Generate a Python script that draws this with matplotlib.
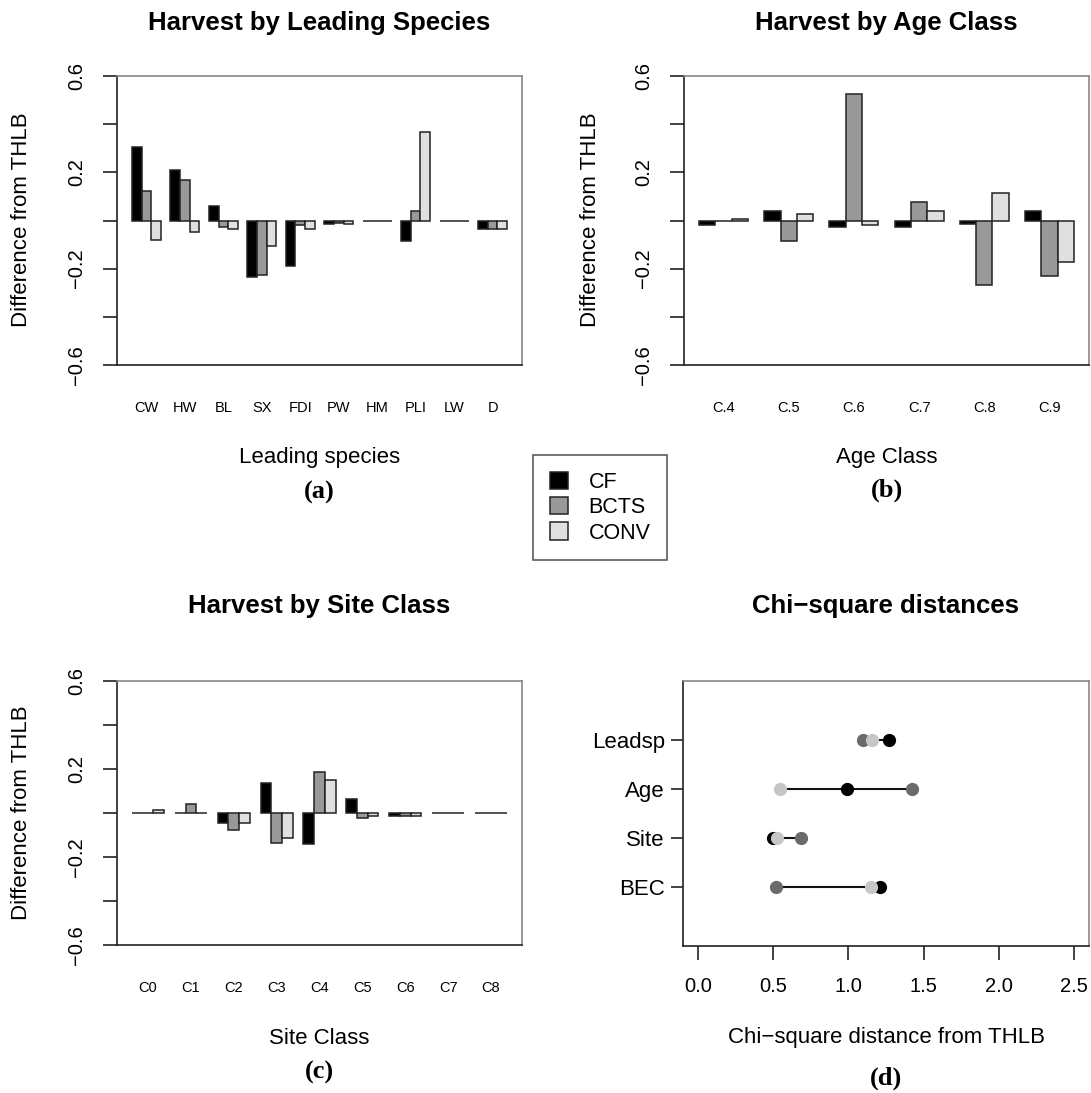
import matplotlib
matplotlib.use('Agg')
import matplotlib.pyplot as plt
import numpy as np
from matplotlib.patches import Patch

plt.rcParams['font.family'] = ['Liberation Sans', 'DejaVu Sans']

# data
species = ['CW', 'HW', 'BL', 'SX', 'FDI', 'PW', 'HM', 'PLI', 'LW', 'D']
sp_cf = [0.307, 0.210, 0.061, -0.235, -0.188, -0.014, 0.0, -0.087, 0.0, -0.034]
sp_bcts = [0.121, 0.167, -0.027, -0.227, -0.018, -0.010, 0.0, 0.041, 0.0, -0.034]
sp_conv = [-0.080, -0.046, -0.034, -0.107, -0.034, -0.014, 0.0, 0.366, 0.0, -0.034]

ages = ['C.4', 'C.5', 'C.6', 'C.7', 'C.8', 'C.9']
age_cf = [-0.020, 0.041, -0.029, -0.029, -0.014, 0.041]
age_bcts = [0.0, -0.086, 0.525, 0.075, -0.267, -0.231]
age_conv = [0.008, 0.027, -0.020, 0.039, 0.114, -0.171]

sites = ['C0', 'C1', 'C2', 'C3', 'C4', 'C5', 'C6', 'C7', 'C8']
site_cf = [0.0, 0.0, -0.045, 0.136, -0.142, 0.062, -0.015, 0.0, 0.0]
site_bcts = [0.0, 0.039, -0.076, -0.135, 0.186, -0.023, -0.015, 0.0, 0.0]
site_conv = [0.015, 0.0, -0.045, -0.112, 0.152, -0.015, -0.015, 0.0, 0.0]

chi_labels = ['Leadsp', 'Age', 'Site', 'BEC']
chi_cf = [1.273, 0.989, 0.496, 1.207]
chi_bcts = [1.100, 1.424, 0.684, 0.518]
chi_conv = [1.158, 0.544, 0.522, 1.147]

series = ['CF', 'BCTS', 'CONV']
bar_cols = ['#000000', '#999999', '#e0e0e0']
pt_cols = ['#000000', '#6a6a6a', '#c6c6c6']

W, H = 1091, 1093
fig = plt.figure(figsize=(W / 100, H / 100), dpi=100)


def box(l, t, r, b):
    return [l / W, 1 - b / H, (r - l) / W, (b - t) / H]


def ftext(x, y, s, **kw):
    fig.text(x / W, 1 - y / H, s, ha='center', va='center', **kw)


def fmt(v):
    return ('%.1f' % v).replace('-', '\u2212')


def style_spines(ax):
    for k, sp in ax.spines.items():
        sp.set_linewidth(1.2)
        sp.set_color('#888888' if k in ('top', 'right') else '#222222')


def bar_panel(rect, cats, cf, bcts, conv, title, xlabel, letter, lx, ty, xly, ly, yly):
    ax = fig.add_axes(box(*rect))
    n = len(cats)
    for j, vals in enumerate([cf, bcts, conv]):
        x = 1 + 4 * np.arange(n) + j
        ax.bar(x, vals, width=1, align='edge', color=bar_cols[j],
               edgecolor='#222222', linewidth=1.1)
    ext = 0.04 * (4 * n - 1)
    ax.set_xlim(1 - ext, 4 * n + ext)
    ax.set_ylim(-0.6, 0.6)
    ax.set_xticks(2.5 + 4 * np.arange(n))
    ax.set_xticklabels(cats, fontsize=10.5)
    ax.tick_params(axis='x', length=0, pad=26)
    yt = np.round(np.arange(-0.6, 0.61, 0.2), 1)
    ax.set_yticks(yt)
    ax.set_yticklabels([fmt(v) if i % 2 == 0 else '' for i, v in enumerate(yt)],
                       rotation=90, va='center', fontsize=14.5)
    ax.tick_params(axis='y', length=10, width=1.2, pad=12, color='#222222')
    style_spines(ax)
    cx = (rect[0] + rect[2]) / 2
    ftext(cx, ty, title, fontsize=18.5, fontweight='bold')
    ftext(cx, xly, xlabel, fontsize=16)
    ftext(cx, ly, letter, fontsize=19, fontweight='bold', family='Liberation Serif')
    ftext(lx, yly, 'Difference from THLB', fontsize=16, rotation=90)
    return ax


bar_panel((117, 76, 522, 365), species, sp_cf, sp_bcts, sp_conv,
          'Harvest by Leading Species', 'Leading species', '(a)', 22, 23, 458, 492, 220)
bar_panel((684, 76, 1089, 365), ages, age_cf, age_bcts, age_conv,
          'Harvest by Age Class', 'Age Class', '(b)', 590, 23, 458, 490, 220)
bar_panel((117, 681, 522, 945), sites, site_cf, site_bcts, site_conv,
          'Harvest by Site Class', 'Site Class', '(c)', 22, 606, 1038, 1072, 813)

# chi-square distances
ax = fig.add_axes(box(683, 681, 1089, 946))
yy = np.arange(len(chi_labels), 0, -1)
lo = np.minimum(np.minimum(chi_cf, chi_bcts), chi_conv)
hi = np.maximum(np.maximum(chi_cf, chi_bcts), chi_conv)
ax.hlines(yy, lo, hi, color='#111111', linewidth=1.5, zorder=2)
for j, vals in enumerate([chi_bcts, chi_cf, chi_conv]):
    col = [pt_cols[1], pt_cols[0], pt_cols[2]][j]
    ax.plot(vals, yy, 'o', color=col, markersize=8.5, zorder=3 + j)
ax.set_xlim(-0.1, 2.6)
ax.set_ylim(-0.2, 5.2)
xt = np.arange(0, 2.51, 0.5)
ax.set_xticks(xt)
ax.set_xticklabels([fmt(v) for v in xt], fontsize=14.5)
ax.set_yticks(yy)
ax.set_yticklabels(chi_labels, fontsize=16)
ax.tick_params(axis='x', length=10, width=1.2, pad=12, color='#222222')
ax.tick_params(axis='y', length=9, width=1.2, pad=4, color='#222222')
style_spines(ax)
ftext(886, 606, 'Chi\u2212square distances', fontsize=18.5, fontweight='bold')
ftext(886, 1038, 'Chi\u2212square distance from THLB', fontsize=16)
ftext(886, 1078, '(d)', fontsize=19, fontweight='bold', family='Liberation Serif')

# shared legend
handles = [Patch(facecolor=c, edgecolor='#222222', linewidth=1.1) for c in bar_cols]
fig.legend(handles, series, loc='upper left', bbox_to_anchor=(533 / W, 1 - 455 / H),
           fontsize=15.5, frameon=True, fancybox=False, edgecolor='#222222',
           handlelength=0.85, handleheight=0.85, handletextpad=0.95,
           labelspacing=0.2, borderpad=0.78, borderaxespad=0)
fig.legends[0].get_frame().set_linewidth(1.1)

fig.savefig('out.png', dpi=100)
